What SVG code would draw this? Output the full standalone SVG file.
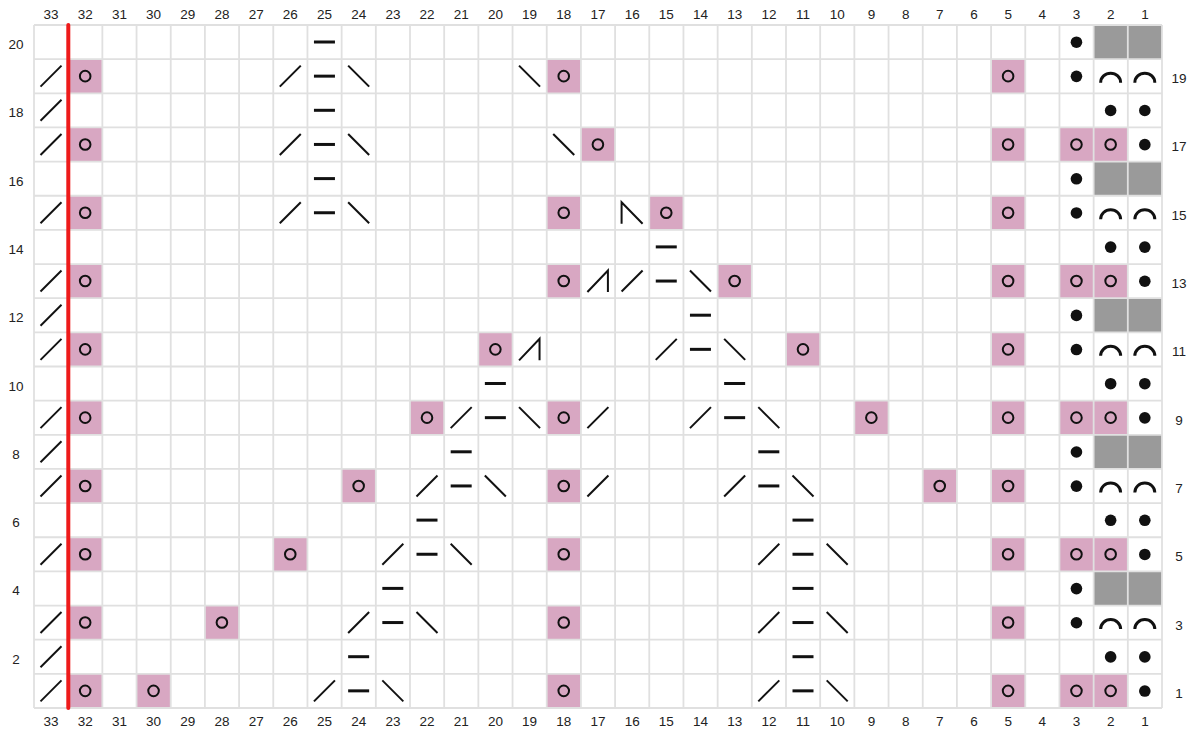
<svg xmlns="http://www.w3.org/2000/svg" width="1193" height="730" viewBox="0 0 1193 730">
<style>
.lbl{font-family:"Liberation Sans",Arial,sans-serif;font-size:13.5px;fill:#222;text-anchor:middle}
.ln{stroke:#111;stroke-width:2;fill:none}
.bar{stroke:#111;stroke-width:3;fill:none}
.pk{fill:#d8a7c2}
.gy{fill:#9a9a9a}
</style>
<defs>
<rect id="cell" width="34.18" height="34.15"/>
<line id="sl" class="ln" x1="6.5" y1="27.5" x2="27.5" y2="6.5"/>
<line id="bs" class="ln" x1="6.5" y1="6.5" x2="27.5" y2="27.5"/>
<line id="br" class="bar" x1="6.5" y1="17" x2="27.5" y2="17"/>
<circle id="yo" class="ln" cx="17" cy="17" r="5.3"/>
<circle id="dt" cx="17" cy="17.2" r="5.8" fill="#111"/>
<path id="ar" class="bar" d="M7,23.5 A10,9.5 0 0 1 27,23.5"/>
<polyline id="rd" class="ln" points="6.5,28 27,6.5 27,28"/>
<polyline id="ld" class="ln" points="6.5,28 6.5,6.5 27.5,28"/>
</defs>
<rect width="1193" height="730" fill="#fff"/>
<g id="fills">
<g class="pk">
<use href="#cell" x="68.18" y="59.15"/><use href="#cell" x="546.73" y="59.15"/><use href="#cell" x="991.09" y="59.15"/>
<use href="#cell" x="68.18" y="127.45"/><use href="#cell" x="580.91" y="127.45"/><use href="#cell" x="991.09" y="127.45"/><use href="#cell" x="1059.45" y="127.45"/><use href="#cell" x="1093.64" y="127.45"/>
<use href="#cell" x="68.18" y="195.75"/><use href="#cell" x="546.73" y="195.75"/><use href="#cell" x="649.27" y="195.75"/><use href="#cell" x="991.09" y="195.75"/>
<use href="#cell" x="68.18" y="264.05"/><use href="#cell" x="546.73" y="264.05"/><use href="#cell" x="717.64" y="264.05"/><use href="#cell" x="991.09" y="264.05"/><use href="#cell" x="1059.45" y="264.05"/><use href="#cell" x="1093.64" y="264.05"/>
<use href="#cell" x="68.18" y="332.35"/><use href="#cell" x="478.36" y="332.35"/><use href="#cell" x="786" y="332.35"/><use href="#cell" x="991.09" y="332.35"/>
<use href="#cell" x="68.18" y="400.65"/><use href="#cell" x="410" y="400.65"/><use href="#cell" x="546.73" y="400.65"/><use href="#cell" x="854.36" y="400.65"/><use href="#cell" x="991.09" y="400.65"/><use href="#cell" x="1059.45" y="400.65"/><use href="#cell" x="1093.64" y="400.65"/>
<use href="#cell" x="68.18" y="468.95"/><use href="#cell" x="341.64" y="468.95"/><use href="#cell" x="546.73" y="468.95"/><use href="#cell" x="922.73" y="468.95"/><use href="#cell" x="991.09" y="468.95"/>
<use href="#cell" x="68.18" y="537.25"/><use href="#cell" x="273.27" y="537.25"/><use href="#cell" x="546.73" y="537.25"/><use href="#cell" x="991.09" y="537.25"/><use href="#cell" x="1059.45" y="537.25"/><use href="#cell" x="1093.64" y="537.25"/>
<use href="#cell" x="68.18" y="605.55"/><use href="#cell" x="204.91" y="605.55"/><use href="#cell" x="546.73" y="605.55"/><use href="#cell" x="991.09" y="605.55"/>
<use href="#cell" x="68.18" y="673.85"/><use href="#cell" x="136.55" y="673.85"/><use href="#cell" x="546.73" y="673.85"/><use href="#cell" x="991.09" y="673.85"/><use href="#cell" x="1059.45" y="673.85"/><use href="#cell" x="1093.64" y="673.85"/>
</g>
<g class="gy">
<rect x="1093.64" y="25" width="68.36" height="34.15"/>
<rect x="1093.64" y="161.6" width="68.36" height="34.15"/>
<rect x="1093.64" y="298.2" width="68.36" height="34.15"/>
<rect x="1093.64" y="434.8" width="68.36" height="34.15"/>
<rect x="1093.64" y="571.4" width="68.36" height="34.15"/>
</g>
</g>
<g id="grid" stroke="#e0e0e0" stroke-width="1.8" fill="none">
<path d="M34,25V708M68.18,25V708M102.36,25V708M136.55,25V708M170.73,25V708M204.91,25V708M239.09,25V708M273.27,25V708M307.45,25V708M341.64,25V708M375.82,25V708M410,25V708M444.18,25V708M478.36,25V708M512.55,25V708M546.73,25V708M580.91,25V708M615.09,25V708M649.27,25V708M683.45,25V708M717.64,25V708M751.82,25V708M786,25V708M820.18,25V708M854.36,25V708M888.55,25V708M922.73,25V708M956.91,25V708M991.09,25V708M1025.27,25V708M1059.45,25V708M1093.64,25V708M1127.82,25V708M1162,25V708"/>
<path d="M34,25H1162M34,59.15H1162M34,93.3H1162M34,127.45H1162M34,161.6H1162M34,195.75H1162M34,229.9H1162M34,264.05H1162M34,298.2H1162M34,332.35H1162M34,366.5H1162M34,400.65H1162M34,434.8H1162M34,468.95H1162M34,503.1H1162M34,537.25H1162M34,571.4H1162M34,605.55H1162M34,639.7H1162M34,673.85H1162M34,708H1162"/>
</g>
<g id="symbols">
<!-- yarn overs -->
<use href="#yo" x="68.18" y="59.15"/><use href="#yo" x="546.73" y="59.15"/><use href="#yo" x="991.09" y="59.15"/>
<use href="#yo" x="68.18" y="127.45"/><use href="#yo" x="580.91" y="127.45"/><use href="#yo" x="991.09" y="127.45"/><use href="#yo" x="1059.45" y="127.45"/><use href="#yo" x="1093.64" y="127.45"/>
<use href="#yo" x="68.18" y="195.75"/><use href="#yo" x="546.73" y="195.75"/><use href="#yo" x="649.27" y="195.75"/><use href="#yo" x="991.09" y="195.75"/>
<use href="#yo" x="68.18" y="264.05"/><use href="#yo" x="546.73" y="264.05"/><use href="#yo" x="717.64" y="264.05"/><use href="#yo" x="991.09" y="264.05"/><use href="#yo" x="1059.45" y="264.05"/><use href="#yo" x="1093.64" y="264.05"/>
<use href="#yo" x="68.18" y="332.35"/><use href="#yo" x="478.36" y="332.35"/><use href="#yo" x="786" y="332.35"/><use href="#yo" x="991.09" y="332.35"/>
<use href="#yo" x="68.18" y="400.65"/><use href="#yo" x="410" y="400.65"/><use href="#yo" x="546.73" y="400.65"/><use href="#yo" x="854.36" y="400.65"/><use href="#yo" x="991.09" y="400.65"/><use href="#yo" x="1059.45" y="400.65"/><use href="#yo" x="1093.64" y="400.65"/>
<use href="#yo" x="68.18" y="468.95"/><use href="#yo" x="341.64" y="468.95"/><use href="#yo" x="546.73" y="468.95"/><use href="#yo" x="922.73" y="468.95"/><use href="#yo" x="991.09" y="468.95"/>
<use href="#yo" x="68.18" y="537.25"/><use href="#yo" x="273.27" y="537.25"/><use href="#yo" x="546.73" y="537.25"/><use href="#yo" x="991.09" y="537.25"/><use href="#yo" x="1059.45" y="537.25"/><use href="#yo" x="1093.64" y="537.25"/>
<use href="#yo" x="68.18" y="605.55"/><use href="#yo" x="204.91" y="605.55"/><use href="#yo" x="546.73" y="605.55"/><use href="#yo" x="991.09" y="605.55"/>
<use href="#yo" x="68.18" y="673.85"/><use href="#yo" x="136.55" y="673.85"/><use href="#yo" x="546.73" y="673.85"/><use href="#yo" x="991.09" y="673.85"/><use href="#yo" x="1059.45" y="673.85"/><use href="#yo" x="1093.64" y="673.85"/>
<!-- column 33 slashes -->
<use href="#sl" x="34" y="59.15"/><use href="#sl" x="34" y="93.3"/><use href="#sl" x="34" y="127.45"/><use href="#sl" x="34" y="195.75"/><use href="#sl" x="34" y="264.05"/><use href="#sl" x="34" y="298.2"/><use href="#sl" x="34" y="332.35"/><use href="#sl" x="34" y="400.65"/><use href="#sl" x="34" y="434.8"/><use href="#sl" x="34" y="468.95"/><use href="#sl" x="34" y="537.25"/><use href="#sl" x="34" y="605.55"/><use href="#sl" x="34" y="639.7"/><use href="#sl" x="34" y="673.85"/>
<!-- other slashes -->
<use href="#sl" x="273.27" y="59.15"/><use href="#sl" x="273.27" y="127.45"/><use href="#sl" x="273.27" y="195.75"/>
<use href="#sl" x="615.09" y="264.05"/><use href="#sl" x="649.27" y="332.35"/>
<use href="#sl" x="444.18" y="400.65"/><use href="#sl" x="580.91" y="400.65"/><use href="#sl" x="683.45" y="400.65"/>
<use href="#sl" x="410" y="468.95"/><use href="#sl" x="580.91" y="468.95"/><use href="#sl" x="717.64" y="468.95"/>
<use href="#sl" x="375.82" y="537.25"/><use href="#sl" x="751.82" y="537.25"/>
<use href="#sl" x="341.64" y="605.55"/><use href="#sl" x="751.82" y="605.55"/>
<use href="#sl" x="307.45" y="673.85"/><use href="#sl" x="751.82" y="673.85"/>
<!-- backslashes -->
<use href="#bs" x="341.64" y="59.15"/><use href="#bs" x="512.55" y="59.15"/>
<use href="#bs" x="341.64" y="127.45"/><use href="#bs" x="546.73" y="127.45"/>
<use href="#bs" x="341.64" y="195.75"/>
<use href="#bs" x="683.45" y="264.05"/><use href="#bs" x="717.64" y="332.35"/>
<use href="#bs" x="512.55" y="400.65"/><use href="#bs" x="751.82" y="400.65"/>
<use href="#bs" x="478.36" y="468.95"/><use href="#bs" x="786" y="468.95"/>
<use href="#bs" x="444.18" y="537.25"/><use href="#bs" x="820.18" y="537.25"/>
<use href="#bs" x="410" y="605.55"/><use href="#bs" x="820.18" y="605.55"/>
<use href="#bs" x="375.82" y="673.85"/><use href="#bs" x="820.18" y="673.85"/>
<!-- bars -->
<use href="#br" x="307.45" y="25"/><use href="#br" x="307.45" y="59.15"/><use href="#br" x="307.45" y="93.3"/><use href="#br" x="307.45" y="127.45"/><use href="#br" x="307.45" y="161.6"/><use href="#br" x="307.45" y="195.75"/>
<use href="#br" x="649.27" y="229.9"/><use href="#br" x="649.27" y="264.05"/>
<use href="#br" x="683.45" y="298.2"/><use href="#br" x="683.45" y="332.35"/>
<use href="#br" x="478.36" y="366.5"/><use href="#br" x="717.64" y="366.5"/>
<use href="#br" x="478.36" y="400.65"/><use href="#br" x="717.64" y="400.65"/>
<use href="#br" x="444.18" y="434.8"/><use href="#br" x="751.82" y="434.8"/>
<use href="#br" x="444.18" y="468.95"/><use href="#br" x="751.82" y="468.95"/>
<use href="#br" x="410" y="503.1"/><use href="#br" x="786" y="503.1"/>
<use href="#br" x="410" y="537.25"/><use href="#br" x="786" y="537.25"/>
<use href="#br" x="375.82" y="571.4"/><use href="#br" x="786" y="571.4"/>
<use href="#br" x="375.82" y="605.55"/><use href="#br" x="786" y="605.55"/>
<use href="#br" x="341.64" y="639.7"/><use href="#br" x="786" y="639.7"/>
<use href="#br" x="341.64" y="673.85"/><use href="#br" x="786" y="673.85"/>
<!-- decreases -->
<use href="#rd" x="580.91" y="264.05"/><use href="#rd" x="512.55" y="332.35"/>
<use href="#ld" x="615.09" y="195.75"/>
<!-- dots -->
<use href="#dt" x="1059.45" y="25"/><use href="#dt" x="1059.45" y="59.15"/>
<use href="#dt" x="1093.64" y="93.3"/><use href="#dt" x="1127.82" y="93.3"/>
<use href="#dt" x="1127.82" y="127.45"/>
<use href="#dt" x="1059.45" y="161.6"/><use href="#dt" x="1059.45" y="195.75"/>
<use href="#dt" x="1093.64" y="229.9"/><use href="#dt" x="1127.82" y="229.9"/>
<use href="#dt" x="1127.82" y="264.05"/>
<use href="#dt" x="1059.45" y="298.2"/><use href="#dt" x="1059.45" y="332.35"/>
<use href="#dt" x="1093.64" y="366.5"/><use href="#dt" x="1127.82" y="366.5"/>
<use href="#dt" x="1127.82" y="400.65"/>
<use href="#dt" x="1059.45" y="434.8"/><use href="#dt" x="1059.45" y="468.95"/>
<use href="#dt" x="1093.64" y="503.1"/><use href="#dt" x="1127.82" y="503.1"/>
<use href="#dt" x="1127.82" y="537.25"/>
<use href="#dt" x="1059.45" y="571.4"/><use href="#dt" x="1059.45" y="605.55"/>
<use href="#dt" x="1093.64" y="639.7"/><use href="#dt" x="1127.82" y="639.7"/>
<use href="#dt" x="1127.82" y="673.85"/>
<!-- arcs -->
<use href="#ar" x="1093.64" y="59.15"/><use href="#ar" x="1127.82" y="59.15"/>
<use href="#ar" x="1093.64" y="195.75"/><use href="#ar" x="1127.82" y="195.75"/>
<use href="#ar" x="1093.64" y="332.35"/><use href="#ar" x="1127.82" y="332.35"/>
<use href="#ar" x="1093.64" y="468.95"/><use href="#ar" x="1127.82" y="468.95"/>
<use href="#ar" x="1093.64" y="605.55"/><use href="#ar" x="1127.82" y="605.55"/>
</g>
<line id="repeat-line" x1="68.3" y1="25" x2="68.3" y2="708" stroke="#ee1a1a" stroke-width="4" stroke-linecap="round"/>
<g id="col-labels-top" class="lbl">
<text x="51.09" y="19">33</text><text x="85.27" y="19">32</text><text x="119.45" y="19">31</text><text x="153.64" y="19">30</text><text x="187.82" y="19">29</text><text x="222" y="19">28</text><text x="256.18" y="19">27</text><text x="290.36" y="19">26</text><text x="324.55" y="19">25</text><text x="358.73" y="19">24</text><text x="392.91" y="19">23</text><text x="427.09" y="19">22</text><text x="461.27" y="19">21</text><text x="495.45" y="19">20</text><text x="529.64" y="19">19</text><text x="563.82" y="19">18</text><text x="598" y="19">17</text><text x="632.18" y="19">16</text><text x="666.36" y="19">15</text><text x="700.55" y="19">14</text><text x="734.73" y="19">13</text><text x="768.91" y="19">12</text><text x="803.09" y="19">11</text><text x="837.27" y="19">10</text><text x="871.45" y="19">9</text><text x="905.64" y="19">8</text><text x="939.82" y="19">7</text><text x="974" y="19">6</text><text x="1008.18" y="19">5</text><text x="1042.36" y="19">4</text><text x="1076.55" y="19">3</text><text x="1110.73" y="19">2</text><text x="1144.91" y="19">1</text>
</g>
<g id="col-labels-bottom" class="lbl">
<text x="51.09" y="726">33</text><text x="85.27" y="726">32</text><text x="119.45" y="726">31</text><text x="153.64" y="726">30</text><text x="187.82" y="726">29</text><text x="222" y="726">28</text><text x="256.18" y="726">27</text><text x="290.36" y="726">26</text><text x="324.55" y="726">25</text><text x="358.73" y="726">24</text><text x="392.91" y="726">23</text><text x="427.09" y="726">22</text><text x="461.27" y="726">21</text><text x="495.45" y="726">20</text><text x="529.64" y="726">19</text><text x="563.82" y="726">18</text><text x="598" y="726">17</text><text x="632.18" y="726">16</text><text x="666.36" y="726">15</text><text x="700.55" y="726">14</text><text x="734.73" y="726">13</text><text x="768.91" y="726">12</text><text x="803.09" y="726">11</text><text x="837.27" y="726">10</text><text x="871.45" y="726">9</text><text x="905.64" y="726">8</text><text x="939.82" y="726">7</text><text x="974" y="726">6</text><text x="1008.18" y="726">5</text><text x="1042.36" y="726">4</text><text x="1076.55" y="726">3</text><text x="1110.73" y="726">2</text><text x="1144.91" y="726">1</text>
</g>
<g id="row-labels-left" class="lbl">
<text x="16" y="49">20</text><text x="16" y="117.3">18</text><text x="16" y="185.6">16</text><text x="16" y="253.9">14</text><text x="16" y="322.2">12</text><text x="16" y="390.5">10</text><text x="16" y="458.8">8</text><text x="16" y="527.1">6</text><text x="16" y="595.4">4</text><text x="16" y="663.7">2</text>
</g>
<g id="row-labels-right" class="lbl">
<text x="1179" y="83.15">19</text><text x="1179" y="151.45">17</text><text x="1179" y="219.75">15</text><text x="1179" y="288.05">13</text><text x="1179" y="356.35">11</text><text x="1179" y="424.65">9</text><text x="1179" y="492.95">7</text><text x="1179" y="561.25">5</text><text x="1179" y="629.55">3</text><text x="1179" y="697.85">1</text>
</g>
</svg>
